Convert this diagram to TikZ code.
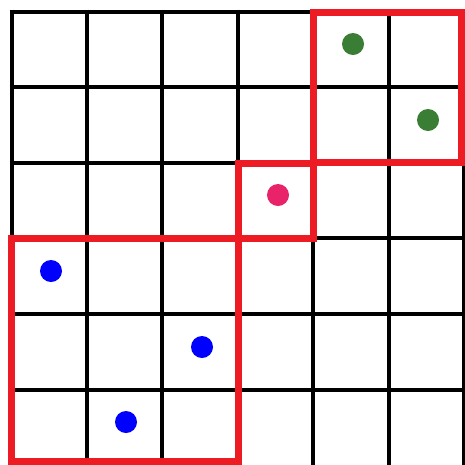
\documentclass[tikz,border=0pt]{standalone}
\definecolor{boxred}{HTML}{ED1C24}
\definecolor{dotgreen}{HTML}{3A7D35}
\definecolor{dotpink}{HTML}{E8236A}
\definecolor{dotblue}{HTML}{0000FF}
\tikzset{
  gridline/.style={line width=4pt, black},
  redbox/.style={line width=7pt, boxred},
  dot/.style={circle, inner sep=0pt, minimum size=22pt, draw=none}
}
\begin{document}
\begin{tikzpicture}[x=1pt,y=-1pt]
\useasboundingbox (0,0) rectangle (465,464);
\clip (0,0) rectangle (465,464);
\fill[white] (0,0) rectangle (465,464);
\foreach \k in {0,...,6}{
  \draw[gridline] ({11.5+75.4*\k},9.5) -- ({11.5+75.4*\k},480);
}
\foreach \k in {0,...,5}{
  \draw[gridline] (9.5,{11.5+75.6*\k}) -- (480,{11.5+75.6*\k});
}
\draw[redbox] (313.5,12) rectangle (461.5,162.5);
\draw[redbox] (238.3,163) rectangle (313.5,238);
\draw[redbox] (11.5,238.5) rectangle (238.3,461);
\node[dot, fill=dotgreen] (g1) at (353,44) {};
\node[dot, fill=dotgreen] (g2) at (428,120) {};
\node[dot, fill=dotpink] (p1) at (278,195) {};
\node[dot, fill=dotblue] (b1) at (51,271) {};
\node[dot, fill=dotblue] (b2) at (202,347) {};
\node[dot, fill=dotblue] (b3) at (126,422) {};
\end{tikzpicture}
\end{document}
